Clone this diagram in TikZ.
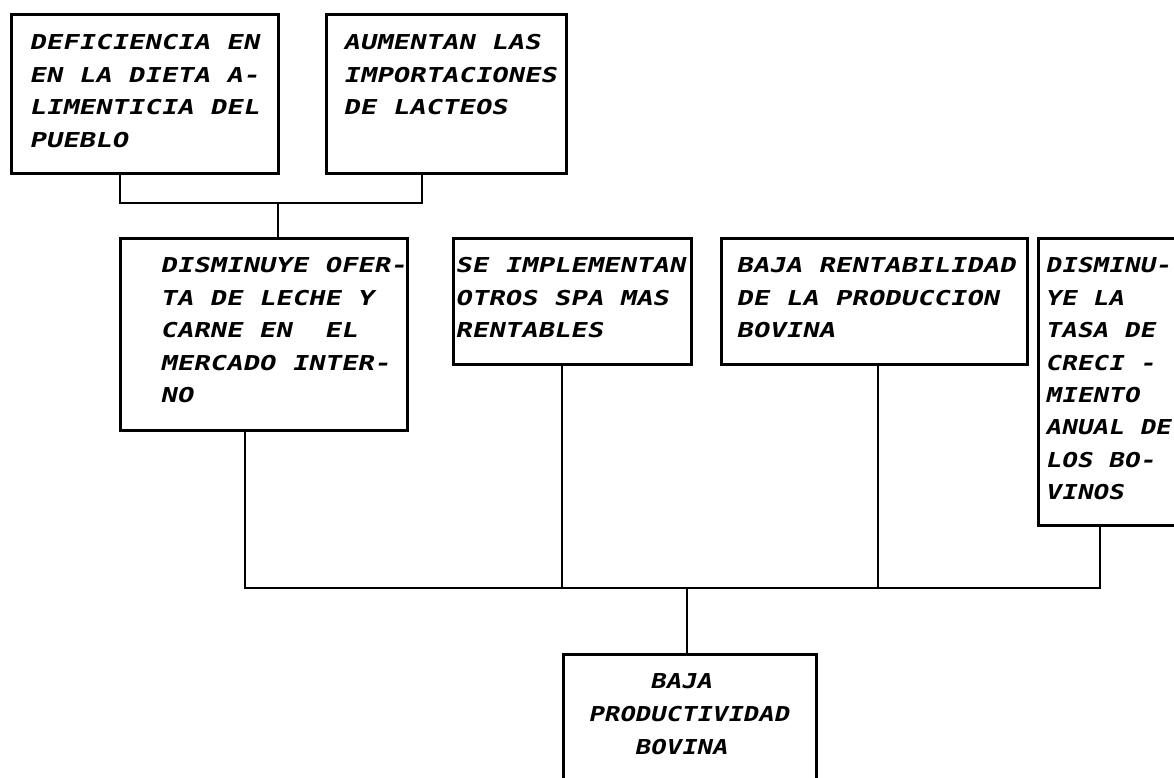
\documentclass[tikz,border=0pt]{standalone}
\usepackage{fontspec}
\newfontfamily\dfont[FakeSlant=0.22,FakeStretch=1.33]{DejaVu Sans Mono}
\newfontfamily\dfontn[FakeSlant=0.22,FakeStretch=1.27]{DejaVu Sans Mono}
\newfontfamily\dfontb[FakeSlant=0.22,FakeStretch=1.25]{DejaVu Sans Mono}
\begin{document}
\begin{tikzpicture}[x=1pt,y=-1pt,
  box/.style={draw,line width=2.5pt,rectangle,inner sep=0pt,anchor=north west},
  txt/.style={inner sep=0pt,anchor=north west,align=left,
    font=\dfont\bfseries\fontsize{20.5pt}{32.4pt}\selectfont},
  link/.style={line width=2.3pt,line cap=rect}]
\useasboundingbox (0,0) rectangle (1174,777);
\clip (0,0) rectangle (1174,777);
% boxes
\node[box,minimum width=267pt,minimum height=159pt] (b1) at (10,13) {};
\node[box,minimum width=240pt,minimum height=159pt] (b2) at (325,13) {};
\node[box,minimum width=287pt,minimum height=192pt] (b3) at (119,237) {};
\node[box,minimum width=238pt,minimum height=126pt] (b4) at (452,237) {};
\node[box,minimum width=306pt,minimum height=126pt] (b5) at (720,237) {};
\node[box,minimum width=150pt,minimum height=287pt] (b6) at (1037,237) {};
\node[box,minimum width=253pt,minimum height=140pt] (b7) at (562,653) {};
% texts
\node[txt] (t1) at (29,34.5) {DEFICIENCIA EN\\EN LA DIETA A-\\LIMENTICIA DEL\\PUEBLO};
\node[txt] (t2) at (343,34.5) {AUMENTAN LAS\\IMPORTACIONES\\DE LACTEOS};
\node[txt] (t3) at (160,257.5) {DISMINUYE OFER-\\TA DE LECHE Y\\CARNE EN\ \ EL\\MERCADO INTER-\\NO};
\node[txt] (t4) at (455,257.5) {SE IMPLEMENTAN\\OTROS SPA MAS\\RENTABLES};
\node[txt] (t5) at (736,257.5) {BAJA RENTABILIDAD\\DE LA PRODUCCION\\BOVINA};
\node[txt,font=\dfontn\bfseries\fontsize{20.5pt}{32.4pt}\selectfont] (t6) at (1045,257.5) {DISMINU-\\YE LA\\TASA DE\\CRECI -\\MIENTO\\ANUAL DE\\LOS BO-\\VINOS};
\node[txt,font=\dfontb\bfseries\fontsize{20.5pt}{33pt}\selectfont] (t7) at (588,673.5) {\phantom{XXXX}BAJA\\PRODUCTIVIDAD\\\phantom{XXX}BOVINA};
% junction coordinates
\coordinate (j1) at (278,203);
\coordinate (j2) at (687,588);
% top connectors
\draw[link] (b1.south west) ++(110,0) coordinate (s1) -- (s1 |- j1) -- (j1);
\draw[link] (b2.south west) ++(97,0) coordinate (s2) -- (s2 |- j1) -- (j1);
\draw[link] (j1) -- (j1 |- b3.north);
% middle connectors
\draw[link] (b3.south west) ++(126,0) coordinate (s3) -- (s3 |- j2) -- (j2);
\draw[link] (b4.south west) ++(110,0) coordinate (s4) -- (s4 |- j2);
\draw[link] (b5.south west) ++(158,0) coordinate (s5) -- (s5 |- j2);
\draw[link] (b6.south west) ++(63,0) coordinate (s6) -- (s6 |- j2) -- (j2);
\draw[link] (j2) -- (j2 |- b7.north);
\end{tikzpicture}
\end{document}
